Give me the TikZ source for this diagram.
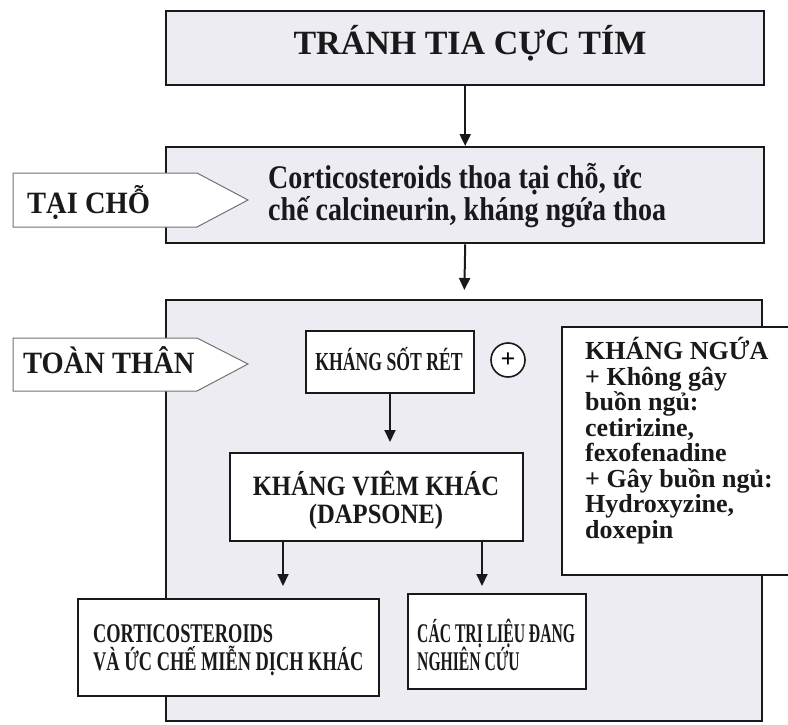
\documentclass[tikz,border=0pt]{standalone}
\usepackage{fontspec}
\setmainfont{Liberation Serif}
\newfontfamily\fTop{Liberation Serif}
\newfontfamily\fMid[FakeStretch=0.85]{Liberation Serif}
\newfontfamily\fSide[FakeStretch=0.92]{Liberation Serif}
\newfontfamily\fKV[FakeStretch=0.88]{Liberation Serif}
\newfontfamily\fNarrow[FakeStretch=0.68]{Liberation Serif}
\newfontfamily\fNarrower[FakeStretch=0.58]{Liberation Serif}
\usetikzlibrary{arrows.meta,calc}
\definecolor{panelfill}{RGB}{236,236,242}
\definecolor{ink}{RGB}{25,25,28}
\begin{document}
\begin{tikzpicture}[x=1pt,y=-1pt,
  panel/.style={draw=ink, line width=2.4pt, fill=panelfill, rectangle, inner sep=0pt, anchor=north west},
  inbox/.style={draw=ink, line width=2pt, fill=white, rectangle, inner sep=0pt, anchor=north west},
  penta/.style={draw=black!55, line width=1pt, fill=white},
  arr/.style={draw=ink, line width=2pt, -{Triangle[length=12pt,width=11pt]}},
  lbl/.style={inner sep=0pt, text=ink},
]
\useasboundingbox (0,0) rectangle (788,725);
\clip (0,0) rectangle (788,725);
\fill[white] (0,0) rectangle (788,725);

% top box
\node[panel, minimum width=598pt, minimum height=74pt] (top) at (165,10) {};
\node[lbl, anchor=base, font=\fTop\bfseries\fontsize{34}{36}\selectfont] (toptxt) at (470,55) {TRÁNH TIA CỰC TÍM};

% local treatment box
\node[panel, minimum width=598pt, minimum height=96pt] (mid) at (165,146) {};
\node[lbl, anchor=base west, font=\fMid\bfseries\fontsize{33}{35}\selectfont] (m1) at (268,188) {Corticosteroids thoa tại chỗ, ức};
\node[lbl, anchor=base west, font=\fMid\bfseries\fontsize{33}{35}\selectfont] (m2) at (268,220) {chế calcineurin, kháng ngứa thoa};

\draw[penta] (13,173) -- (197,173) -- (248,200) -- (197,227) -- (13,227) -- cycle;
\node[lbl, anchor=base west, font=\fSide\bfseries\fontsize{31}{33}\selectfont] (taicho) at (27,213) {TẠI CHỖ};

\draw[arr] (top.south) -- (mid.north);

% systemic panel
\node[panel, minimum width=596pt, minimum height=421pt] (big) at (165,299) {};
\draw[arr, shorten >=9pt] (mid.south) -- (big.north);

\draw[penta] (13,338) -- (197,338) -- (248,364) -- (197,391) -- (13,391) -- cycle;
\node[lbl, anchor=base west, font=\fSide\bfseries\fontsize{31}{33}\selectfont] (toanthan) at (23,373) {TOÀN THÂN};

% antimalarial
\node[inbox, minimum width=168pt, minimum height=62pt] (ksr) at (305,330) {};
\node[lbl, anchor=base, font=\fNarrow\bfseries\fontsize{26}{28}\selectfont] (ksrt) at (389,370) {KHÁNG SỐT RÉT};

% plus circle
\node[circle, draw=ink, line width=1.6pt, fill=white, minimum size=34pt, inner sep=0pt, font=\fTop\bfseries\fontsize{26}{26}\selectfont] (plus) at (508,360) {+};

% antipruritic box
\node[inbox, minimum width=240pt, minimum height=248pt] (kn) at (561,326) {};
\begin{scope}[every node/.style={lbl, anchor=base west, font=\fTop\bfseries\fontsize{26}{26}\selectfont}]
\node (kn1) at (585,359) {KHÁNG NGỨA};
\node (kn2) at (585,385) {+ Không gây};
\node (kn3) at (585,410.5) {buồn ngủ:};
\node (kn4) at (585,436) {cetirizine,};
\node (kn5) at (585,461.5) {fexofenadine};
\node (kn6) at (585,487) {+ Gây buồn ngủ:};
\node (kn7) at (585,512.5) {Hydroxyzine,};
\node (kn8) at (585,538) {doxepin};
\end{scope}

% other anti-inflammatory
\node[inbox, minimum width=293pt, minimum height=88pt] (kv) at (229,452) {};
\node[lbl, anchor=base, font=\fKV\bfseries\fontsize{28}{30}\selectfont] (kv1) at (376,495) {KHÁNG VIÊM KHÁC};
\node[lbl, anchor=base, font=\fKV\bfseries\fontsize{28}{30}\selectfont] (kv2) at (376,523) {(DAPSONE)};

\draw[arr, shorten >=10pt] (ksr.south) -- (ksr.south |- kv.north);

% bottom boxes
\node[inbox, minimum width=301pt, minimum height=97pt] (cort) at (77,598) {};
\node[lbl, anchor=base west, font=\fNarrow\bfseries\fontsize{27}{29}\selectfont] (c1) at (93,642) {CORTICOSTEROIDS};
\node[lbl, anchor=base west, font=\fNarrow\bfseries\fontsize{27}{29}\selectfont] (c2) at (93,670) {VÀ ỨC CHẾ MIỄN DỊCH KHÁC};

\node[inbox, minimum width=178pt, minimum height=95pt] (ctl) at (407,593) {};
\node[lbl, anchor=base west, font=\fNarrower\bfseries\fontsize{27}{29}\selectfont] (t1) at (417,642) {CÁC TRỊ LIỆU ĐANG};
\node[lbl, anchor=base west, font=\fNarrower\bfseries\fontsize{27}{29}\selectfont] (t2) at (417,670) {NGHIÊN CỨU};

\coordinate (a1) at (283,0);
\coordinate (a2) at (482,0);
\draw[arr, shorten >=12pt] (kv.south -| a1) -- (a1 |- cort.north);
\draw[arr, shorten >=7pt] (kv.south -| a2) -- (a2 |- ctl.north);
\end{tikzpicture}
\end{document}
